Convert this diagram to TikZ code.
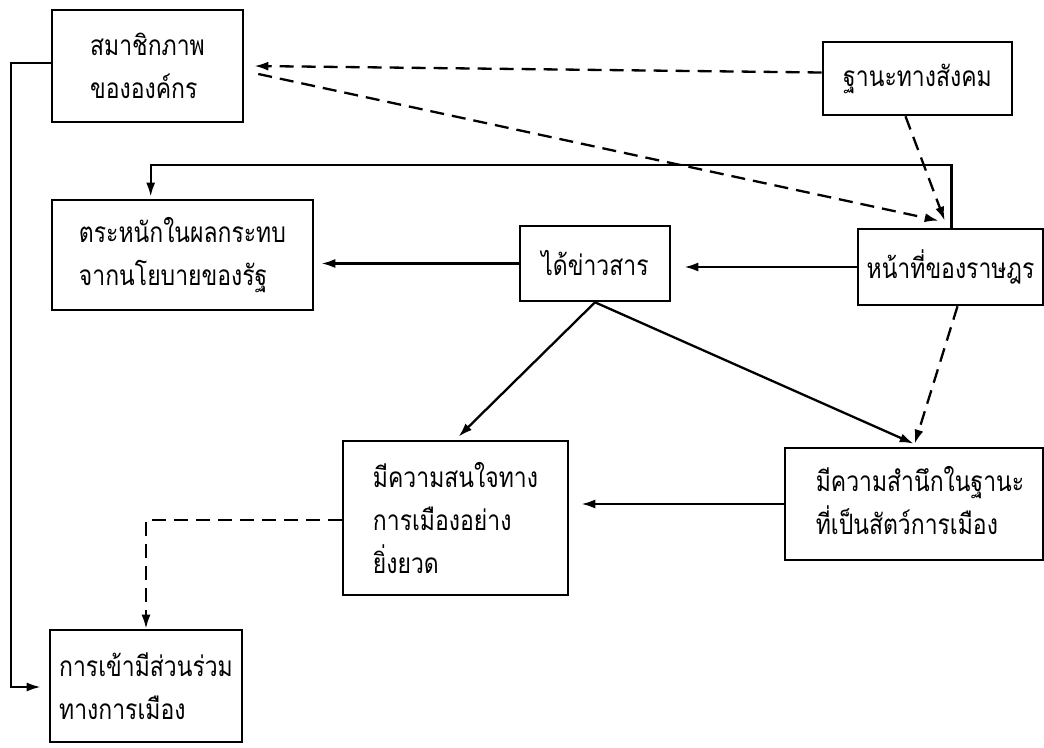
\documentclass[tikz,border=0pt]{standalone}
\usepackage{fontspec}
\newfontfamily\thaifont[Script=Thai,FakeStretch=0.82]{Loma}
\usetikzlibrary{arrows.meta,calc}
\begin{document}
\begin{tikzpicture}[x=0.5pt,y=-0.5pt,
  box/.style={draw,line width=1.3pt,rectangle,inner sep=0pt,align=left,
    font=\thaifont\fontsize{14}{21.5}\selectfont},
  con/.style={line width=1.15pt,-{Latex[length=7pt,width=4.5pt]}},
  dsh/.style={con,dash pattern=on 7pt off 4pt}]
\useasboundingbox (0,0) rectangle (1044,748);
\fill[white] (0,0) rectangle (1044,748);
\node[box,minimum width=95.5pt,minimum height=56pt] (mem) at (147.5,66) {สมาชิกภาพ\\ขององ\char"0E04\char"0E4C\char"0E01\char"0E23};
\node[box,minimum width=94.5pt,minimum height=36.5pt] (soc) at (917.5,78.5) {ฐานะทางสังคม};
\node[box,minimum width=130.5pt,minimum height=55pt] (aware) at (182.5,255) {ตระหนักในผลกระทบ\\จากนโยบายของรัฐ};
\node[box,minimum width=75pt,minimum height=37.5pt] (info) at (595,263.5) {ได้ข่าวสาร};
\node[box,minimum width=92.5pt,minimum height=38pt] (duty) at (950.5,267) {หน้าที่ของราษฎร};
\node[box,minimum width=112.5pt,minimum height=77pt] (inter) at (455.5,518) {มีความสนใจทาง\\การเมืองอย่าง\\ยิ่งยวด};
\node[box,minimum width=129pt,minimum height=56pt] (consc) at (914,504) {\hspace*{6pt}\begin{tabular}{@{}l@{}}มีความสำนึกในฐานะ\\ที่เป็นสัตว์การเมือง\end{tabular}};
\node[box,minimum width=96pt,minimum height=56pt] (part) at (146,686) {การเข้ามีส่วนร่วม\\ทางการเมือง};

\draw[dsh] ($(soc.west)+(0,-6)$) -- ($(mem.east)+(10,0)$);
\draw[dsh] ($(mem.east)+(14,8)$) -- ($(duty.north west)+(82,-7)$);
\draw[dsh] ($(soc.south)+(-12,0)$) -- ($(duty.north west)+(88,-7)$);
\draw[con] (duty.west) -- ($(info.east |- duty.west)+(13,0)$);
\draw[con] (info.west) -- ($(aware.east |- info.west)+(7,0)$);
\draw[con] (info.south) -- ($(inter.north)+(3,-3)$);
\draw[con] (info.south) -- ($(consc.north west)+(130,-3)$);
\draw[dsh] ($(duty.south)+(7,0)$) -- ($(consc.north west)+(131,-3)$);
\draw[con] (consc.west) -- ($(inter.east |- consc.west)+(12,0)$);
\draw[dsh] ($(inter.west)+(0,2)$) -| (part.north);
\draw[con] ($(mem.west)+(0,-3)$) -- ++(-40,0) |- ($(part.west)+(-8,1)$);
\draw[con] ($(duty.north)+(1,0)$) -- ++(0,-63) -| ($(aware.north west)+(100,-2)$);
\end{tikzpicture}
\end{document}
